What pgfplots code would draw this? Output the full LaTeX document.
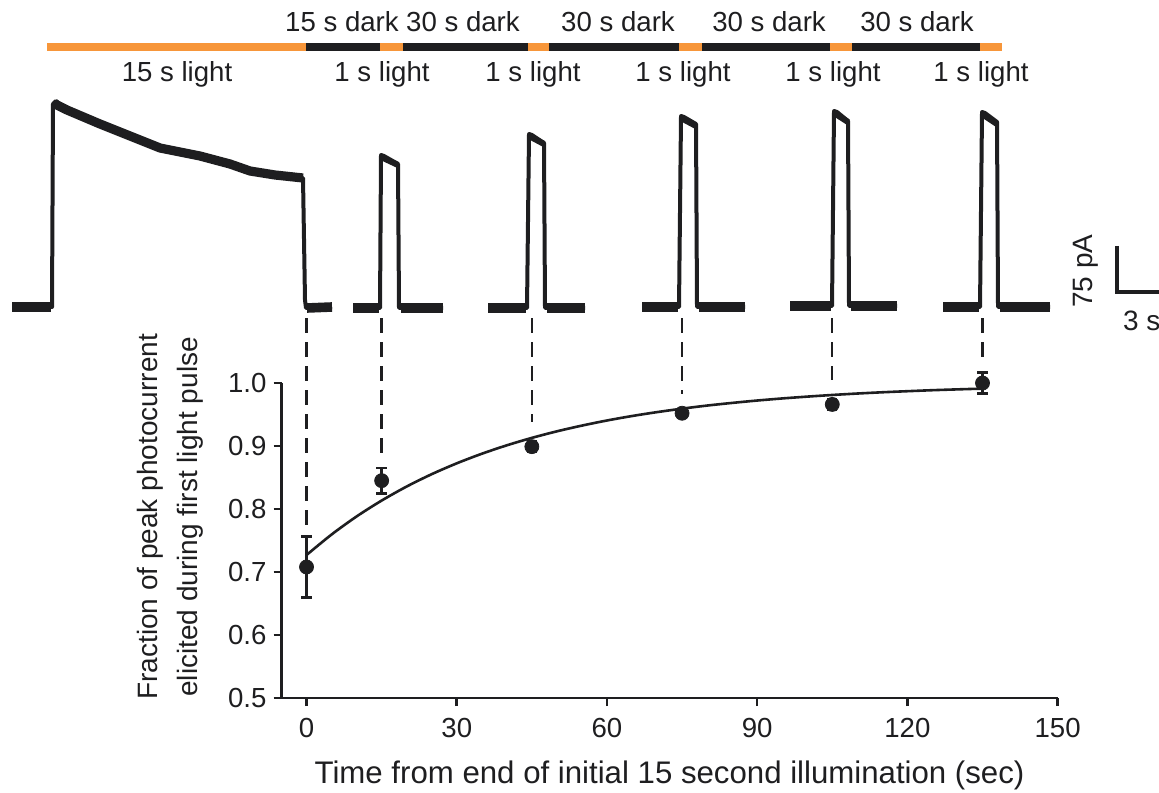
\documentclass[border=0pt]{standalone}
\usepackage{pgfplots}
\pgfplotsset{compat=1.18}
\usepackage{fontspec}
\setmainfont{Liberation Sans}
\definecolor{lightorange}{RGB}{247,150,58}
\definecolor{ink}{RGB}{30,30,32}
\newcommand{\toplab}{\fontsize{13.8}{16}\selectfont}

\begin{document}
\begin{tikzpicture}
\useasboundingbox (0,0) rectangle (579.5pt,396pt);
% ---------------- canvas axis in pixel units (top panel) ----------------
\begin{axis}[at={(0pt,0pt)}, anchor=south west, scale only axis,
  width=579.5pt, height=396pt, xmin=0, xmax=1159, ymin=0, ymax=792,
  y dir=reverse, hide axis, clip=false]
% light / dark protocol bar
\addplot[lightorange, line width=3.6pt, line cap=butt] coordinates {(47,47) (1002,47)};
\addplot[ink, line width=3.6pt, line cap=butt] coordinates {(306,47) (380,47)};
\addplot[ink, line width=3.6pt, line cap=butt] coordinates {(403,47) (528,47)};
\addplot[ink, line width=3.6pt, line cap=butt] coordinates {(549,47) (679,47)};
\addplot[ink, line width=3.6pt, line cap=butt] coordinates {(702,47) (830,47)};
\addplot[ink, line width=3.6pt, line cap=butt] coordinates {(852,47) (980,47)};
% protocol labels
\node[anchor=base, font=\toplab, text=ink] at (axis cs:342,32) {15 s dark};
\node[anchor=base, font=\toplab, text=ink] at (axis cs:463,32) {30 s dark};
\node[anchor=base, font=\toplab, text=ink] at (axis cs:618,32) {30 s dark};
\node[anchor=base, font=\toplab, text=ink] at (axis cs:769,32) {30 s dark};
\node[anchor=base, font=\toplab, text=ink] at (axis cs:917,32) {30 s dark};
\node[anchor=base, font=\toplab, text=ink] at (axis cs:177,82) {15 s light};
\node[anchor=base, font=\toplab, text=ink] at (axis cs:382,82) {1 s light};
\node[anchor=base, font=\toplab, text=ink] at (axis cs:533,82) {1 s light};
\node[anchor=base, font=\toplab, text=ink] at (axis cs:683,82) {1 s light};
\node[anchor=base, font=\toplab, text=ink] at (axis cs:833,82) {1 s light};
\node[anchor=base, font=\toplab, text=ink] at (axis cs:981,82) {1 s light};
% photocurrent traces
\addplot[ink, line width=2pt, line join=round] coordinates {
 (12,307) (52,307) (53,104) (56,101) (67,110) (100,124) (130,136) (160,148)
 (200,156) (230,164) (250,171) (275,175) (303,178) (305,300) (306,308) (332,307)};
\addplot[ink, line width=4.6pt, line join=round] coordinates {
 (55,104) (67,110) (100,124) (130,136) (160,148) (200,156) (230,164) (250,171) (275,175) (303,178)};
\addplot[ink, line width=2pt, line join=round] coordinates {(353,308) (380,308) (381,155) (384,156) (398,164) (399,308) (443,308)};
\addplot[ink, line width=2pt, line join=round] coordinates {(488,308) (527,308) (529,134) (532,135) (544,143) (545,308) (585,308)};
\addplot[ink, line width=2pt, line join=round] coordinates {(642,307) (679,307) (681,116) (684,117) (696,124) (697,307) (745,307)};
\addplot[ink, line width=2pt, line join=round] coordinates {(790,306) (832,306) (834,111) (837,112) (848,121) (849,306) (897,306)};
\addplot[ink, line width=2pt, line join=round] coordinates {(943,307) (980,307) (982,112) (985,113) (997,122) (998,307) (1050,307)};
% noisy baselines and pulse tops
\addplot[ink, line width=4.8pt] coordinates {(12,307) (51,307)};
\addplot[ink, line width=4.8pt] coordinates {(307,308) (332,307)};
\addplot[ink, line width=4.8pt] coordinates {(353,308) (379,308)};
\addplot[ink, line width=4.8pt] coordinates {(401,308) (443,308)};
\addplot[ink, line width=4.8pt] coordinates {(488,308) (526,308)};
\addplot[ink, line width=4.8pt] coordinates {(547,308) (585,308)};
\addplot[ink, line width=4.8pt] coordinates {(642,307) (678,307)};
\addplot[ink, line width=4.8pt] coordinates {(699,307) (745,307)};
\addplot[ink, line width=4.8pt] coordinates {(790,306) (831,306)};
\addplot[ink, line width=4.8pt] coordinates {(851,306) (897,306)};
\addplot[ink, line width=4.8pt] coordinates {(943,307) (979,307)};
\addplot[ink, line width=4.8pt] coordinates {(1000,307) (1050,307)};
\addplot[ink, line width=3pt] coordinates {(381,157) (398,165)};
\addplot[ink, line width=3pt] coordinates {(529,136) (544,144)};
\addplot[ink, line width=3pt] coordinates {(681,118) (696,126)};
\addplot[ink, line width=3pt] coordinates {(834,113) (848,122)};
\addplot[ink, line width=3pt] coordinates {(982,114) (997,124)};
% scale bar
\addplot[ink, line width=1.6pt, line join=miter] coordinates {(1117,246) (1117,292) (1159,292)};
\node[anchor=base, rotate=90, font=\fontsize{14}{16}\selectfont, text=ink] at (axis cs:1092,271) {75 pA};
\node[anchor=base west, font=\fontsize{14}{16}\selectfont, text=ink] at (axis cs:1116,331) {3 s};
\end{axis}

% ---------------- recovery plot ----------------
\begin{axis}[at={(140.75pt,47pt)}, anchor=south west, scale only axis,
  width=388.05pt, height=157.5pt,
  xmin=-5, xmax=150, ymin=0.5, ymax=1.0,
  axis x line=bottom, axis y line=left,
  axis line style={-, line width=1.3pt, ink},
  xtick={0,30,60,90,120,150}, ytick={0.5,0.6,0.7,0.8,0.9,1.0},
  yticklabel style={/pgf/number format/.cd, fixed, fixed zerofill, precision=1},
  xticklabel style={yshift=-2.5pt},
  tick align=outside, major tick length=4pt,
  tick style={line width=1.3pt, ink},
  tick label style={font=\fontsize{13.8}{16}\selectfont, text=ink},
  /pgf/number format/assume math mode=true,
  xlabel={Time from end of initial 15 second illumination (sec)},
  xlabel style={font=\fontsize{15.6}{18}\selectfont, text=ink, yshift=-5pt},
  ylabel={Fraction of peak photocurrent\\elicited during first light pulse},
  ylabel style={font=\fontsize{14}{20}\selectfont, text=ink, align=center,
     at={(axis description cs:-0.1437,0.575)}, anchor=center},
  clip=false]
% dashed connectors from traces
\addplot[ink, line width=1.2pt, dash pattern=on 7.5pt off 4.5pt] coordinates {(0,1.103) (0,0.770)};
\addplot[ink, line width=1.2pt, dash pattern=on 7.5pt off 4.5pt] coordinates {(15,1.103) (15,0.886)};
\addplot[ink, line width=1.2pt, dash pattern=on 7.5pt off 4.5pt] coordinates {(45,1.103) (45,0.938)};
\addplot[ink, line width=1.2pt, dash pattern=on 7.5pt off 4.5pt] coordinates {(75,1.103) (75,0.983)};
\addplot[ink, line width=1.2pt, dash pattern=on 7.5pt off 4.5pt] coordinates {(105,1.103) (105,1.005)};
\addplot[ink, line width=1.2pt, dash pattern=on 7.5pt off 4.5pt] coordinates {(135,1.103) (135,1.032)};
% exponential fit
\addplot[ink, line width=1.3pt, smooth] coordinates {
 (0,0.7270) (5,0.7595) (10,0.7882) (15,0.8134) (20,0.8357) (25,0.8553) (30,0.8725)
 (35,0.8877) (40,0.9011) (45,0.9129) (50,0.9233) (55,0.9324) (60,0.9405) (65,0.9476)
 (70,0.9538) (75,0.9593) (80,0.9642) (85,0.9684) (90,0.9722) (95,0.9755) (100,0.9784)
 (105,0.9810) (110,0.9833) (115,0.9853) (120,0.9870) (125,0.9886) (130,0.9899) (135,0.9911)};
% data with error bars
\addplot[only marks, mark=*, mark size=3.5pt, mark options={fill=ink, draw=ink},
  error bars/.cd, y dir=both, y explicit,
  error bar style={line width=1.4pt, ink},
  error mark options={rotate=90, mark size=2.6pt, line width=1.4pt, ink}]
  table[x=x, y=y, y error=e] {
x   y     e
0   0.708 0.048
15  0.845 0.020
45  0.899 0.008
75  0.952 0.006
105 0.966 0.008
135 1.000 0.017
};
\end{axis}
\end{tikzpicture}
\end{document}
